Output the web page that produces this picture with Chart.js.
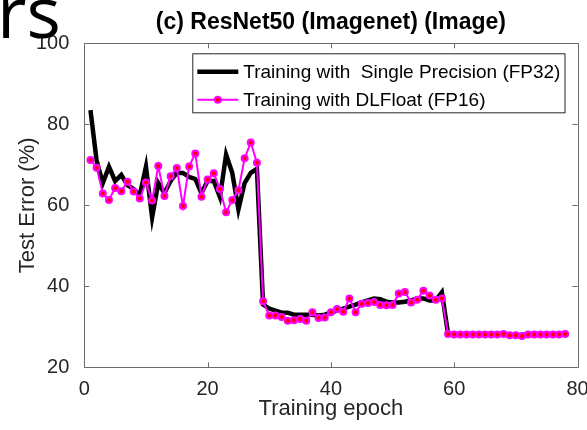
<!DOCTYPE html>
<html>
<head>
<meta charset="utf-8">
<title>ResNet50 test error</title>
<script src="https://cdn.jsdelivr.net/npm/chart.js@4/dist/chart.umd.min.js"></script>
<style>
  html, body { margin: 0; padding: 0; background: #fff; }
  #wrap { position: relative; width: 587px; height: 430px; overflow: hidden; }
  #frag { position: absolute; left: -3px; top: -26px; font-family: "Open Sans", sans-serif; font-weight: 400; font-size: 72px; color: #000; line-height: 1; }
  canvas { position: absolute; left: 0; top: 0; }
</style>
</head>
<body>
<div id="wrap">
  <canvas id="c" width="587" height="430"></canvas>
  <div id="frag">rs</div>
</div>
<script>
// Epoch numbers shared by both runs
const epochs = [];
for (let e = 1; e <= 78; e++) epochs.push(e);

// Test error (%) per epoch, single precision run
const fp32Error = [
  83.5, 71.0, 65.5, 69.5, 66.0, 67.5, 65.0, 64.0, 62.5, 69.5,
  57.0, 65.5, 63.0, 66.0, 68.0, 68.0, 67.0, 66.5, 63.0, 66.0,
  66.0, 62.0, 72.5, 68.0, 59.0, 65.5, 68.0, 69.0,
  35.5, 34.5, 34.0, 33.5, 33.5, 33.0, 33.0, 33.0, 33.0, 32.8,
  33.0, 33.5, 34.0, 34.5, 35.0, 35.5, 36.0, 36.5, 37.0, 36.8,
  36.2, 36.0, 36.0, 36.2, 36.5, 37.0, 37.0, 36.5, 36.5, 38.5,
  28.3, 28.2, 28.2, 28.2, 28.2, 28.2, 28.2, 28.2, 28.2, 28.3,
  28.0, 28.0, 27.9, 28.2, 28.2, 28.2, 28.2, 28.2, 28.2, 28.3
];

// Test error (%) per epoch, DLFloat run
const dlfloatError = [
  71.2, 69.3, 62.9, 61.3, 64.3, 63.5, 65.8, 63.4, 61.7, 65.6,
  61.2, 69.7, 62.3, 67.2, 69.2, 59.8, 69.6, 72.8, 62.1, 66.4,
  67.9, 64.0, 58.3, 61.3, 63.7, 71.6, 75.5, 70.5,
  36.3, 32.8, 32.8, 32.4, 31.5, 31.6, 31.9, 31.5, 33.6, 32.2,
  32.3, 33.6, 34.4, 33.7, 37.0, 33.6, 35.7, 35.9, 36.1, 35.4,
  35.3, 35.4, 38.2, 38.6, 36.0, 36.7, 38.9, 37.7, 36.7, 37.0,
  28.2, 28.1, 28.1, 28.1, 28.1, 28.1, 28.1, 28.1, 28.1, 28.2,
  27.9, 27.9, 27.7, 28.1, 28.1, 28.1, 28.1, 28.1, 28.1, 28.2
];

const seriesNames = ['Training with  Single Precision (FP32)', 'Training with DLFloat (FP16)'];
const xTicks = [0, 20, 40, 60, 80];
const yTicks = [20, 40, 60, 80, 100];

const FONT = '"Liberation Sans", Arial, Helvetica, sans-serif';
const AXIS = '#6b6b6b';
const TEXT = '#262626';

const pairs = (ys) => epochs.map((e, i) => ({ x: e, y: ys[i] }));

// Box around the plot with inward tick marks on all four sides
const frame = {
  id: 'frame',
  beforeDatasetsDraw(chart) {
    const { ctx, chartArea: a, scales: { x, y } } = chart;
    const len = 5;
    ctx.save();
    ctx.strokeStyle = AXIS;
    ctx.lineWidth = 1;
    ctx.beginPath();
    ctx.rect(Math.round(a.left) + 0.5, Math.round(a.top) + 0.5,
             Math.round(a.right) - Math.round(a.left), Math.round(a.bottom) - Math.round(a.top));
    xTicks.forEach(v => {
      const px = Math.round(x.getPixelForValue(v)) + 0.5;
      ctx.moveTo(px, a.bottom); ctx.lineTo(px, a.bottom - len);
      ctx.moveTo(px, a.top); ctx.lineTo(px, a.top + len);
    });
    yTicks.forEach(v => {
      const py = Math.round(y.getPixelForValue(v)) + 0.5;
      ctx.moveTo(a.left, py); ctx.lineTo(a.left + len, py);
      ctx.moveTo(a.right, py); ctx.lineTo(a.right - len, py);
    });
    ctx.stroke();
    ctx.restore();
  }
};

// Boxed legend in the upper part of the plot
const boxLegend = {
  id: 'boxLegend',
  afterDraw(chart) {
    const { ctx, chartArea: a } = chart;
    const left = a.left + 108, top = a.top + 10, right = a.right - 13, bottom = a.top + 69;
    const rowY = [top + 18.5, top + 46.5];
    const x0 = left + 5, x1 = left + 46, tx = left + 51;
    ctx.save();
    ctx.fillStyle = '#fff';
    ctx.fillRect(left, top, right - left, bottom - top);
    ctx.strokeStyle = '#262626';
    ctx.lineWidth = 1;
    ctx.strokeRect(left + 0.5, top + 0.5, right - left, bottom - top);
    chart.data.datasets.forEach((ds, i) => {
      const yy = rowY[i];
      ctx.strokeStyle = ds.borderColor;
      ctx.lineWidth = ds.borderWidth;
      ctx.beginPath(); ctx.moveTo(x0, yy); ctx.lineTo(x1, yy); ctx.stroke();
      if (ds.pointRadius > 0) {
        ctx.beginPath();
        ctx.arc((x0 + x1) / 2, yy, ds.pointRadius, 0, Math.PI * 2);
        ctx.fillStyle = ds.pointBackgroundColor;
        ctx.fill();
        ctx.lineWidth = ds.pointBorderWidth;
        ctx.strokeStyle = ds.pointBorderColor;
        ctx.stroke();
      }
      ctx.fillStyle = '#000';
      ctx.font = '19px ' + FONT;
      ctx.textBaseline = 'middle';
      ctx.textAlign = 'left';
      ctx.fillText(ds.label, tx, yy + 1);
    });
    ctx.restore();
  }
};

new Chart(document.getElementById('c'), {
  type: 'line',
  data: {
    datasets: [
      {
        label: seriesNames[0],
        data: pairs(fp32Error),
        borderColor: '#000000',
        borderWidth: 4.5,
        pointRadius: 0,
        tension: 0,
        order: 1
      },
      {
        label: seriesNames[1],
        data: pairs(dlfloatError),
        borderColor: '#ff00ff',
        borderWidth: 2,
        pointRadius: 3,
        pointBorderWidth: 2,
        pointBackgroundColor: '#ff0000',
        pointBorderColor: '#ff00ff',
        tension: 0,
        order: 0
      }
    ]
  },
  options: {
    responsive: false,
    animation: false,
    devicePixelRatio: 1,
    layout: { padding: { left: 0, right: 9.5, top: 0, bottom: 0 } },
    plugins: {
      legend: { display: false },
      tooltip: { enabled: false },
      title: {
        display: true,
        fullSize: false,
        text: '(c) ResNet50 (Imagenet) (Image)',
        color: '#000',
        font: { family: FONT, size: 23, weight: 'bold', lineHeight: 1.2 },
        padding: { top: 9, bottom: 6.7 }
      }
    },
    scales: {
      x: {
        type: 'linear',
        min: 0, max: 80,
        afterFit(s) { s.height = 62.7; s.paddingLeft = 0; s.paddingRight = 0; },
        afterBuildTicks(s) { s.ticks = xTicks.map(v => ({ value: v })); },
        grid: { display: false },
        border: { display: false },
        ticks: { color: TEXT, font: { family: FONT, size: 20 }, padding: 2, maxRotation: 0 },
        title: { display: true, text: 'Training epoch', color: TEXT,
                 font: { family: FONT, size: 22 }, padding: { top: 0, bottom: 8 } }
      },
      y: {
        min: 20, max: 100,
        afterFit(s) { s.width = 84.3; s.paddingTop = 0; s.paddingBottom = 0; },
        afterBuildTicks(s) { s.ticks = yTicks.map(v => ({ value: v })); },
        grid: { display: false },
        border: { display: false },
        ticks: { color: TEXT, font: { family: FONT, size: 20 }, padding: 7 },
        title: { display: true, text: 'Test Error (%)', color: TEXT,
                 font: { family: FONT, size: 22 }, padding: { top: 15, bottom: 0 } }
      }
    }
  },
  plugins: [frame, boxLegend]
});
</script>
</body>
</html>
